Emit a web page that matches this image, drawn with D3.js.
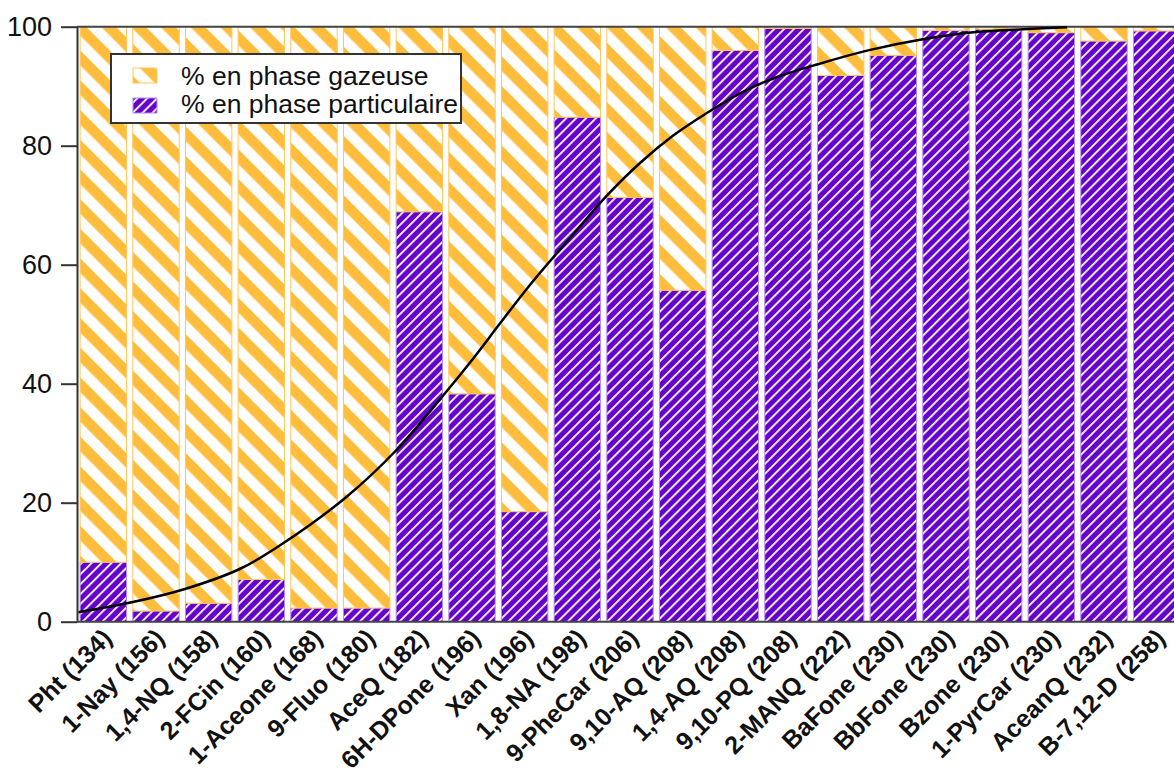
<!DOCTYPE html>
<html>
<head>
<meta charset="utf-8">
<script src="https://cdn.jsdelivr.net/npm/d3@7"></script>
<style>
  html, body { margin: 0; padding: 0; background: #fff; }
  svg { display: block; font-family: "Liberation Sans", Arial, sans-serif; }
</style>
</head>
<body>
<svg id="chart" width="1174" height="776"></svg>
<script>
// Compounds (molar mass in brackets)
const categories = ["Pht (134)", "1-Nay (156)", "1,4-NQ (158)", "2-FCin (160)", "1-Aceone (168)",
  "9-Fluo (180)", "AceQ (182)", "6H-DPone (196)", "Xan (196)", "1,8-NA (198)", "9-PheCar (206)",
  "9,10-AQ (208)", "1,4-AQ (208)", "9,10-PQ (208)", "2-MANQ (222)", "BaFone (230)", "BbFone (230)",
  "Bzone (230)", "1-PyrCar (230)", "AceanQ (232)", "B-7,12-D (258)"];

// % in particulate phase
const particulate = [10.0, 1.8, 3.1, 7.1, 2.3, 2.3, 68.9, 38.3, 18.5, 84.8, 71.3,
  55.7, 96.0, 99.7, 91.8, 95.2, 99.4, 99.6, 99.0, 97.6, 99.3];

// % in gas phase
const gaseous = [90.0, 98.2, 96.9, 92.9, 97.7, 97.7, 31.1, 61.7, 81.5, 15.2, 28.7,
  44.3, 4.0, 0.3, 8.2, 4.8, 0.6, 0.4, 1.0, 2.4, 0.7];

// Partitioning curve, x given as position along the category axis (0 = first compound)
const curveX = [-0.47, 0.56, 1.55, 2.60, 3.35, 4.62, 5.57, 6.46, 7.02, 7.53, 8.10,
  8.93, 9.56, 10.19, 10.82, 11.46, 12.09, 12.72, 13.57, 14.56, 15.56, 16.57, 17.56, 18.30];
const curveY = [1.6, 3.3, 5.5, 8.9, 12.8, 21.0, 28.9, 38.1, 44.2, 50.1, 56.6,
  65.2, 71.6, 77.1, 81.7, 85.5, 88.8, 91.3, 93.7, 96.1, 97.9, 99.1, 99.6, 99.9];

const yTicks = [0, 20, 40, 60, 80, 100];
const seriesKeys = ["particulate", "gaseous"];
const legendLabels = ["% en phase gazeuse", "% en phase particulaire"];

const svg = d3.select("#chart");
const margin = { left: 77, top: 26.7, bottom: 621.7, right: 1183 };

const rows = categories.map((c, i) => ({ name: c, particulate: particulate[i], gaseous: gaseous[i] }));

const x = d3.scaleBand().domain(categories).range([margin.left, margin.right])
  .paddingInner(0.1).paddingOuter(0.05);
const y = d3.scaleLinear().domain([0, 100]).range([margin.bottom, margin.top]);
const xPos = d3.scaleLinear().domain([0, categories.length - 1])
  .range([x(categories[0]) + x.bandwidth() / 2, x(categories[categories.length - 1]) + x.bandwidth() / 2]);

// Hatch patterns
const defs = svg.append("defs");
const gasPat = defs.append("pattern").attr("id", "hatch-gas")
  .attr("patternUnits", "userSpaceOnUse").attr("width", 21).attr("height", 21)
  .attr("patternTransform", "rotate(-45)");
gasPat.append("rect").attr("width", 21).attr("height", 21).attr("fill", "#FFBD3D");
gasPat.append("rect").attr("x", 0).attr("width", 10.5).attr("height", 21).attr("fill", "#fff");

const partPat = defs.append("pattern").attr("id", "hatch-part")
  .attr("patternUnits", "userSpaceOnUse").attr("width", 7).attr("height", 7)
  .attr("patternTransform", "rotate(45)");
partPat.append("rect").attr("width", 7).attr("height", 7).attr("fill", "#6600CC");
partPat.append("rect").attr("x", 0).attr("width", 1.8).attr("height", 7).attr("fill", "#fff");

const fills = { particulate: "url(#hatch-part)", gaseous: "url(#hatch-gas)" };
const strokes = { particulate: "#b48de8", gaseous: "#FFC65A" };

const stacked = d3.stack().keys(seriesKeys)(rows);

svg.append("g").selectAll("g").data(stacked).join("g")
  .each(function (s) {
    d3.select(this).selectAll("rect").data(s).join("rect")
      .attr("x", d => x(d.data.name) + 0.5)
      .attr("width", x.bandwidth() - 1)
      .attr("y", d => y(d[1]))
      .attr("height", d => Math.max(0, y(d[0]) - y(d[1])))
      .attr("fill", fills[s.key])
      .attr("stroke", strokes[s.key])
      .attr("stroke-width", 1);
  });

// Frame line along the top
svg.append("line").attr("x1", margin.left).attr("x2", 1174)
  .attr("y1", margin.top).attr("y2", margin.top)
  .attr("stroke", "#444").attr("stroke-width", 2);

// Y axis
const yAxis = svg.append("g").attr("transform", `translate(${margin.left},0)`)
  .call(d3.axisLeft(y).tickValues(yTicks).tickSize(16).tickPadding(9).tickSizeOuter(0));
yAxis.select(".domain").attr("stroke", "#333").attr("stroke-width", 2);
yAxis.selectAll(".tick line").attr("stroke", "#333").attr("stroke-width", 2);
yAxis.selectAll(".tick text").attr("font-size", 27).attr("fill", "#111")
  .attr("font-family", "Liberation Sans, Arial, sans-serif");

// X axis
const xAxis = svg.append("g").attr("transform", `translate(0,${margin.bottom})`)
  .call(d3.axisBottom(x).tickSize(0).tickSizeOuter(0));
xAxis.select(".domain").attr("stroke", "#444").attr("stroke-width", 2)
  .attr("d", `M${margin.left},0H1174`);
xAxis.selectAll(".tick text")
  .attr("font-size", 25).attr("font-weight", "bold").attr("fill", "#111")
  .attr("font-family", "Liberation Sans, Arial, sans-serif")
  .attr("text-anchor", "end")
  .attr("dy", null).attr("y", 0)
  .attr("transform", "translate(10,18) rotate(-45)");

// Partitioning curve
const line = d3.line().x(d => xPos(d[0])).y(d => y(d[1])).curve(d3.curveCatmullRom.alpha(0.5));
svg.append("path").datum(curveX.map((v, i) => [v, curveY[i]]))
  .attr("d", line).attr("fill", "none").attr("stroke", "#000").attr("stroke-width", 2.5);

// Legend
const lg = svg.append("g").attr("transform", "translate(111,54)");
lg.append("rect").attr("width", 350).attr("height", 69).attr("fill", "#fff")
  .attr("stroke", "#333").attr("stroke-width", 2);
[["gaseous", 0], ["particulate", 1]].forEach(([key, i]) => {
  lg.append("rect").attr("x", 22).attr("y", 14 + i * 30).attr("width", 24).attr("height", 15)
    .attr("fill", fills[key]).attr("stroke", strokes[key]).attr("stroke-width", 1);
  lg.append("text").attr("x", 70).attr("y", 31 + i * 28).attr("font-size", 26.5)
    .attr("fill", "#111").text(legendLabels[i]);
});
</script>
</body>
</html>
